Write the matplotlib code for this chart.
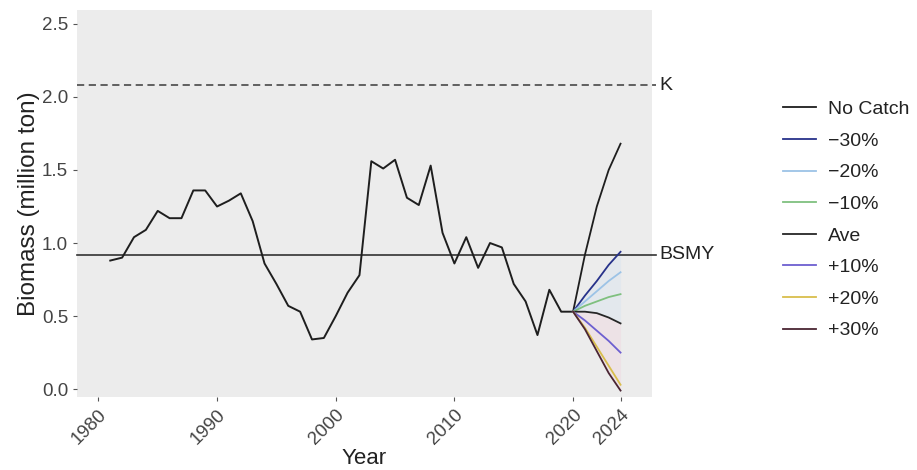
import matplotlib
matplotlib.use("Agg")
import matplotlib.pyplot as plt

plt.rcParams["font.family"] = ["Liberation Sans", "DejaVu Sans"]

# historical biomass (million ton)
years = list(range(1981, 2021))
biomass = [0.88, 0.90, 1.04, 1.09, 1.22, 1.17, 1.17, 1.36, 1.36, 1.25,
           1.29, 1.34, 1.15, 0.86, 0.72, 0.57, 0.53, 0.34, 0.35, 0.50,
           0.66, 0.78, 1.56, 1.51, 1.57, 1.31, 1.26, 1.53, 1.07, 0.86,
           1.04, 0.83, 1.00, 0.97, 0.72, 0.60, 0.37, 0.68, 0.53, 0.53]

# projections 2020-2024
proj_years = [2020, 2021, 2022, 2023, 2024]
scenarios = ["No Catch", "\u221230%", "\u221220%", "\u221210%", "Ave", "+10%", "+20%", "+30%"]
proj_values = [
    [0.53, 0.92, 1.25, 1.50, 1.68],
    [0.53, 0.64, 0.74, 0.85, 0.94],
    [0.53, 0.60, 0.67, 0.74, 0.80],
    [0.53, 0.57, 0.60, 0.63, 0.65],
    [0.53, 0.53, 0.52, 0.49, 0.45],
    [0.53, 0.47, 0.40, 0.33, 0.25],
    [0.53, 0.42, 0.29, 0.16, 0.03],
    [0.53, 0.41, 0.26, 0.11, -0.01],
]
colors = ["#1e1e1e", "#27328a", "#9cc3e6", "#7fc07f", "#262626", "#6d5fd0", "#d9be4c", "#4a2533"]

K = 2.08
BSMY = 0.92
x_ticks = [1980, 1990, 2000, 2010, 2020, 2024]
y_ticks = [0.0, 0.5, 1.0, 1.5, 2.0, 2.5]


def plot_data():
    fig = plt.figure(figsize=(9.17, 4.70), dpi=100)
    ax = fig.add_axes([0.084, 0.155, 0.627, 0.824])
    ax.set_facecolor("#ececec")

    # reference lines, running slightly past the panel like the original
    ax.plot([1978.2, 2027.0], [K, K], color="#555555", lw=1.3, ls=(0, (4, 2.5)), clip_on=False)
    ax.plot([1978.2, 2027.0], [BSMY, BSMY], color="#333333", lw=1.2, clip_on=False)
    ax.text(2027.3, K, "K", va="center", ha="left", fontsize=14, color="#222222")
    ax.text(2027.3, BSMY, "BSMY", va="center", ha="left", fontsize=14, color="#222222")

    # faint spread behind the projections
    ax.fill_between(proj_years, proj_values[7], proj_values[4], color="#f3c6d6", alpha=0.25, lw=0)
    ax.fill_between(proj_years, proj_values[4], proj_values[1], color="#c9def3", alpha=0.25, lw=0)

    ax.plot(years, biomass, color="#1e1e1e", lw=1.4)
    for name, vals, c in zip(scenarios, proj_values, colors):
        ax.plot(proj_years, vals, color=c, lw=1.3, label=name)

    ax.set_xlim(1978.2, 2026.65)
    ax.set_ylim(-0.055, 2.596)
    ax.set_xticks(x_ticks)
    ax.set_yticks(y_ticks)
    ax.set_yticklabels([f"{v:.1f}" for v in y_ticks])
    ax.tick_params(axis="both", length=3, width=0.8, color="#555555", labelcolor="#444444", labelsize=13.5)
    plt.setp(ax.get_xticklabels(), rotation=45, ha="right", rotation_mode="anchor")
    for s in ax.spines.values():
        s.set_visible(False)

    ax.set_xlabel("Year", fontsize=16, color="#222222", labelpad=0)
    ax.set_ylabel("Biomass (million ton)", fontsize=17.5, color="#222222", labelpad=1)

    leg = ax.legend(loc="upper left", bbox_to_anchor=(1.214, 0.786), frameon=False,
                    fontsize=14, handlelength=1.7, labelspacing=0.72, handletextpad=0.6,
                    borderaxespad=0)
    for t in leg.get_texts():
        t.set_color("#222222")

    fig.savefig("out.png", dpi=100)


if __name__ == "__main__":
    plot_data()
